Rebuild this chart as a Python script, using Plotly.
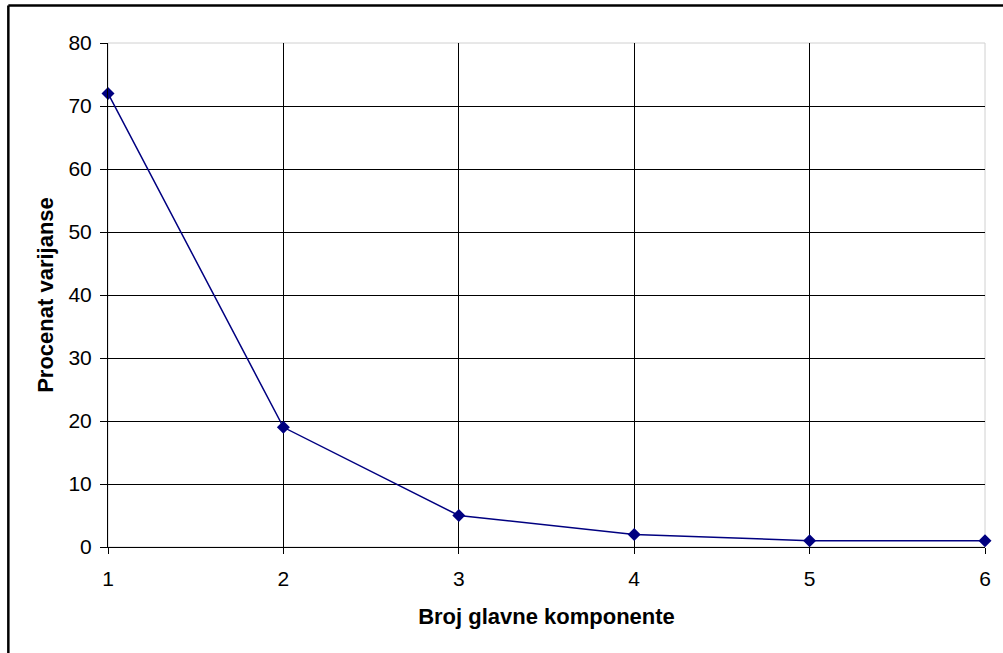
import plotly.graph_objects as go

components = [1, 2, 3, 4, 5, 6]
variance_pct = [72, 19, 5, 2, 1, 1]
y_ticks = [0, 10, 20, 30, 40, 50, 60, 70, 80]
y_inner_grid = [10, 20, 30, 40, 50, 60, 70]
x_inner_grid = [2, 3, 4, 5]

W, H = 1003, 653
L, R, T, B = 108, 15, 43, 106
pw, ph = W - L - R, H - T - B

fig = go.Figure()
fig.add_trace(go.Scatter(
    x=components, y=variance_pct, mode="lines+markers",
    line=dict(color="#000080", width=1.5),
    marker=dict(symbol="diamond", size=10, color="#000080"),
    cliponaxis=False, showlegend=False,
))

ff = "Liberation Sans, Arial, sans-serif"
font = dict(family=ff, size=21, color="black")

fig.update_layout(
    width=W, height=H,
    margin=dict(l=L, r=R, t=T, b=B),
    paper_bgcolor="white", plot_bgcolor="white",
    font=font,
    xaxis=dict(
        range=[1, 6], tickvals=components, showgrid=False, zeroline=False,
        showline=True, linecolor="black", linewidth=1,
        ticks="outside", ticklen=6, tickcolor="black",
        ticklabelstandoff=7,
        tickfont=dict(family=ff, size=21),
        minor=dict(tickvals=x_inner_grid, showgrid=True, gridcolor="black", gridwidth=1, ticks=""),
        title=dict(text="<b>Broj glavne komponente</b>", standoff=19,
                   font=dict(family=ff, size=22)),
    ),
    yaxis=dict(
        range=[0, 80], tickvals=y_ticks, showgrid=False, zeroline=False,
        showline=True, linecolor="black", linewidth=1,
        ticks="outside", ticklen=7, tickcolor="black",
        ticklabelstandoff=4,
        tickfont=dict(family=ff, size=21),
        minor=dict(tickvals=y_inner_grid, showgrid=True, gridcolor="black", gridwidth=1, ticks=""),
        title=dict(text="<b>Procenat varijanse</b>", standoff=8,
                   font=dict(family=ff, size=22)),
    ),
)

# light gray plot-area border (top/right visible)
fig.add_shape(type="rect", xref="x domain", yref="y domain", x0=0, x1=1, y0=0, y1=1,
              line=dict(color="#d0d0d0", width=1), layer="below")

# outer chart border (only left and top edges fall inside the picture)
def px_x(p):
    return (p - L) / pw

def px_y(p):
    return (H - B - p) / ph

fig.add_shape(type="line", xref="paper", yref="paper",
              x0=px_x(8), x1=px_x(8), y0=px_y(5.5), y1=px_y(H + 10),
              line=dict(color="black", width=2.5))
fig.add_shape(type="line", xref="paper", yref="paper",
              x0=px_x(8), x1=px_x(W + 10), y0=px_y(5.5), y1=px_y(5.5),
              line=dict(color="black", width=2.5))

fig.write_html("out.html",
               config={"displayModeBar": False},
               post_script="document.body.style.margin='0';document.body.style.overflow='hidden';")
